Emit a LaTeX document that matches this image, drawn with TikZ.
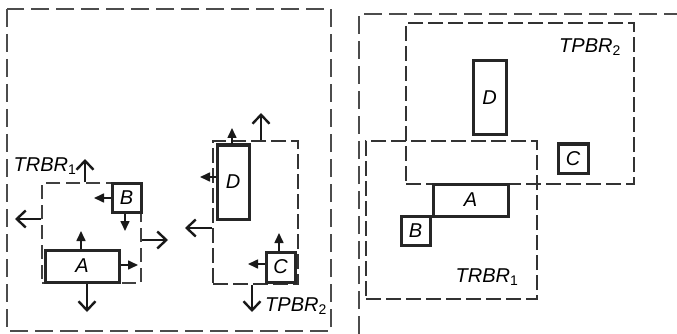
\documentclass[tikz,border=0pt]{standalone}
\usepackage{fontspec}
\setmainfont{Liberation Sans}
\usetikzlibrary{arrows.meta}

\begin{document}
\begin{tikzpicture}[x=1pt, y=-1pt,
    obj/.style={draw=black!85, line width=3pt, inner sep=0pt, font=\fontsize{20}{24}\selectfont\itshape},
    region/.style={draw=black!80, line width=1.8pt, dash pattern=on 15pt off 5pt, inner sep=0pt},
    regionthin/.style={draw=black!75, line width=1.1pt, dash pattern=on 14pt off 6pt, inner sep=0pt},
    frame/.style={draw=black!70, line width=1.2pt, dash pattern=on 18pt off 7pt},
    lbl/.style={font=\fontsize{20}{24}\selectfont\itshape, inner sep=0pt},
    push/.style={-{Triangle[length=10pt,width=9pt]}, line width=1.6pt, black!90},
    widen/.style={-{Straight Barb[length=9pt,width=17pt,line width=2.4pt]}, line width=1.5pt, black!90}]
    \useasboundingbox (0,0) rectangle (677,334);

    % Frames
    \draw[frame] (7,9) rectangle (331,331);
    \draw[frame] (359,334) -- (359,14) -- (677,14);

    % Left: regions before the move
    \node[regionthin, minimum width=99pt, minimum height=100pt] (trbrL) at (91.5,233) {};
    \node[region, minimum width=85pt, minimum height=143pt] (tpbrL) at (255.5,212.5) {};
    \node[lbl] (trbrLbl) at (45,166) {TRBR\textsubscript{\upshape 1}};
    \node[lbl] (tpbrLbl) at (296,306) {TPBR\textsubscript{\upshape 2}};

    % Left: objects
    \node[obj, minimum width=74pt, minimum height=32pt] (objA) at (82,266) {A};
    \node[obj, minimum width=29pt, minimum height=29pt] (objB) at (126.5,197.5) {B};
    \node[obj, minimum width=32pt, minimum height=74pt] (objD) at (233,182) {D};
    \node[obj, minimum width=29pt, minimum height=30pt] (objC) at (280.5,267) {C};

    % Arrow ends
    \coordinate (bLt) at (94,198);
    \coordinate (bDn) at (125,231);
    \coordinate (aUp) at (81,231);
    \coordinate (aRt) at (138,265);
    \coordinate (aDn) at (87,312);
    \coordinate (rUp) at (85,159);
    \coordinate (rLt) at (15,219);
    \coordinate (rRt) at (168,240);
    \coordinate (dUp) at (232,128);
    \coordinate (dLt) at (200,177);
    \coordinate (pUp) at (261,113);
    \coordinate (pLt) at (185,228);
    \coordinate (pDn) at (252,312);
    \coordinate (cUp) at (279,233);
    \coordinate (cLt) at (248,264);

    % Object moves
    \draw[push] (objB.west |- bLt) -- (bLt);
    \draw[push] (objB.south -| bDn) -- (bDn);
    \draw[push] (objA.north -| aUp) -- (aUp);
    \draw[push] (objA.east |- aRt) -- (aRt);
    \draw[push] (objD.north -| dUp) -- (dUp);
    \draw[push] (objD.west |- dLt) -- (dLt);
    \draw[push] (objC.north -| cUp) -- (cUp);
    \draw[push] (objC.west |- cLt) -- (cLt);

    % Region growth
    \draw[widen] (objA.south -| aDn) -- (aDn);
    \draw[widen] (trbrL.north -| rUp) -- (rUp);
    \draw[widen] (trbrL.west |- rLt) -- (rLt);
    \draw[widen] (trbrL.east |- rRt) -- (rRt);
    \draw[widen] (tpbrL.north -| pUp) -- (pUp);
    \draw[widen] (tpbrL.west |- pLt) -- (pLt);
    \draw[widen] (tpbrL.south -| pDn) -- (pDn);

    % Right: regions after the move
    \node[region, minimum width=228pt, minimum height=161pt] (tpbrR) at (520,103.5) {};
    \node[region, minimum width=171pt, minimum height=158pt] (trbrR) at (451.5,220) {};
    \node[lbl] (tpbrRLbl) at (590,47) {TPBR\textsubscript{\upshape 2}};
    \node[lbl] (trbrRLbl) at (487,277) {TRBR\textsubscript{\upshape 1}};

    % Right: objects
    \node[obj, minimum width=33pt, minimum height=74pt] (objDR) at (489.5,98) {D};
    \node[obj, minimum width=30pt, minimum height=29pt] (objCR) at (573,158.5) {C};
    \node[obj, minimum width=75pt, minimum height=32pt] (objAR) at (470.5,200) {A};
    \node[obj, minimum width=29pt, minimum height=29pt] (objBR) at (415.5,230.5) {B};
\end{tikzpicture}
\end{document}
